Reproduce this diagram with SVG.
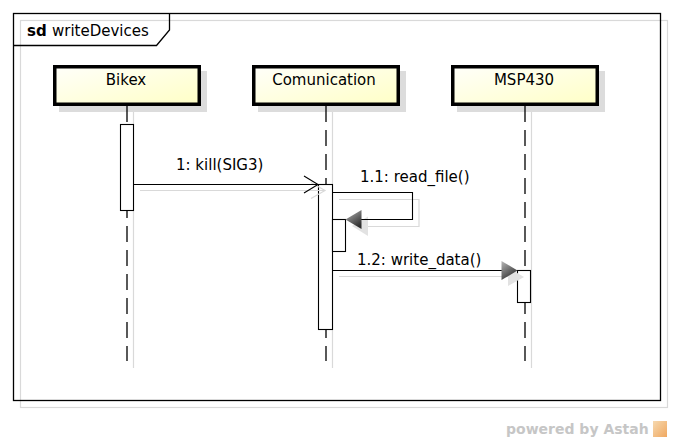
<svg xmlns="http://www.w3.org/2000/svg" width="673" height="441" viewBox="0 0 673 441">
<defs>
<linearGradient id="boxFill" x1="0" y1="0" x2="1" y2="1">
<stop offset="0" stop-color="#fffffa"/>
<stop offset="1" stop-color="#ffffc6"/>
</linearGradient>
<linearGradient id="arrowFill" x1="0" y1="0" x2="0.6" y2="1">
<stop offset="0" stop-color="#b8b8b8"/>
<stop offset="1" stop-color="#2e2e2e"/>
</linearGradient>
<linearGradient id="logoFill" x1="0" y1="0" x2="1" y2="1">
<stop offset="0" stop-color="#f6d9b0"/>
<stop offset="1" stop-color="#f0a860"/>
</linearGradient>
</defs>
<style>
text{font-family:"DejaVu Sans","Liberation Sans",sans-serif;fill:#000}
.lbl{font-size:15px}
.shadowLine{fill:none;stroke:#d9d9d9;stroke-width:1.2}
.shadowFill{fill:#dcdcdc;stroke:none}
.box{fill:url(#boxFill);stroke:#000;stroke-width:3.5}
.life{fill:none;stroke:#000;stroke-width:1.3;stroke-dasharray:16 8}
.act{fill:#fff;stroke:#000;stroke-width:1.1}
.msg{fill:none;stroke:#000;stroke-width:1.1}
.arrow{fill:url(#arrowFill);stroke:none}
.shadowArrow{fill:#e2e2e2;stroke:none}
</style>
<rect width="673" height="441" fill="#fff"/>

<g id="frame">
<rect x="20.5" y="20.5" width="647" height="387" class="shadowLine"/>
<rect x="13.5" y="13.5" width="647" height="387" fill="none" stroke="#000" stroke-width="1.3"/>
<polyline points="13.5,45.5 156.5,45.5 169.5,30 169.5,13.5" fill="none" stroke="#000" stroke-width="1.3"/>
<text x="27" y="35.5" style="font-size:15px;font-weight:bold">sd</text>
<text x="52" y="35.5" style="font-size:15px">writeDevices</text>
</g>

<g id="lifeline-bikex">
<line x1="133.5" y1="111" x2="133.5" y2="368" class="shadowLine"/>
<rect x="59" y="71" width="148" height="41" class="shadowFill"/>
<line x1="127" y1="106" x2="127" y2="361" class="life"/>
<rect x="54.75" y="66.75" width="144.5" height="37.5" class="box"/>
<text x="126" y="85" text-anchor="middle" class="lbl">Bikex</text>
<rect x="120.5" y="124.5" width="13" height="86" class="act"/>
</g>

<g id="lifeline-comunication">
<line x1="332.5" y1="111" x2="332.5" y2="368" class="shadowLine"/>
<rect x="258" y="71" width="148" height="41" class="shadowFill"/>
<line x1="326" y1="106" x2="326" y2="361" class="life"/>
<rect x="253.75" y="66.75" width="144.5" height="37.5" class="box"/>
<text x="324" y="85" text-anchor="middle" class="lbl">Comunication</text>
<rect x="318.5" y="184.5" width="14" height="145" class="act"/>
<rect x="332.5" y="219.5" width="13" height="32" class="act"/>
</g>

<g id="lifeline-msp430">
<line x1="531.5" y1="111" x2="531.5" y2="368" class="shadowLine"/>
<rect x="457" y="71" width="148" height="41" class="shadowFill"/>
<line x1="525" y1="106" x2="525" y2="361" class="life"/>
<rect x="452.75" y="66.75" width="144.5" height="37.5" class="box"/>
<text x="524" y="85" text-anchor="middle" class="lbl">MSP430</text>
<rect x="517.5" y="270.5" width="13" height="32" class="act"/>
</g>

<g id="connectors">
<!-- 1: kill(SIG3) -->
<line x1="140" y1="190.5" x2="324" y2="190.5" class="shadowLine"/>
<polyline points="311,182.5 325,190.5 311,198.5" class="shadowLine"/>
<line x1="133.5" y1="184.5" x2="318" y2="184.5" class="msg"/>
<polyline points="304,176 318,184.5 304,193" class="msg"/>
<text x="176" y="170" class="lbl">1: kill(SIG3)</text>

<!-- 1.1: read_file() -->
<polyline points="339,199.5 419,199.5 419,226.5 362,226.5" class="shadowLine"/>
<polygon points="352,226 368,216.5 368,236" class="shadowArrow"/>
<polyline points="332.5,192.5 412.5,192.5 412.5,219.5 360,219.5" class="msg"/>
<polygon points="345.5,219.5 361.5,210 361.5,229" class="arrow"/>
<text x="360" y="182" class="lbl">1.1: read_file()</text>

<!-- 1.2: write_data() -->
<line x1="339" y1="276.5" x2="510" y2="276.5" class="shadowLine"/>
<polygon points="524,277 508,267.5 508,286" class="shadowArrow"/>
<line x1="332.5" y1="270.5" x2="503" y2="270.5" class="msg"/>
<polygon points="517.5,270.5 501.5,261 501.5,280" class="arrow"/>
<text x="357" y="265" class="lbl">1.2: write_data()</text>
</g>

<g id="watermark">
<text x="506" y="433.5" style="font-size:14px;font-weight:bold;fill:#c6c6c6">powered by Astah</text>
<rect x="653" y="421" width="14" height="16" fill="url(#logoFill)"/>
</g>
</svg>
